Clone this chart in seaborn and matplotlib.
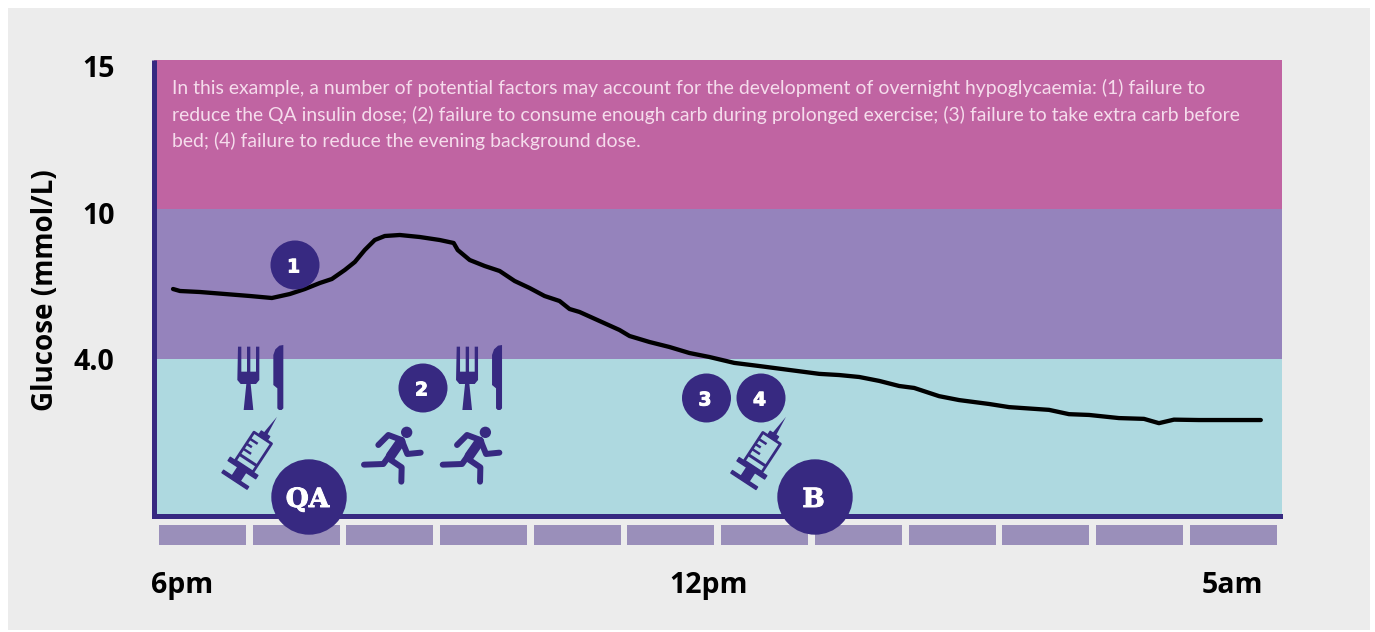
import numpy as np
import pandas as pd
import matplotlib
matplotlib.use("Agg")
import matplotlib.pyplot as plt
import seaborn as sns
import matplotlib.patheffects as pe
from matplotlib.patches import Rectangle, Polygon, Circle
from matplotlib.lines import Line2D
from matplotlib.transforms import ScaledTranslation

# ---- data ----
hours = [0.186,0.26,0.473,0.74,1.006,1.241,1.433,1.593,1.753,1.881,2.019,2.126,2.232,2.339,2.446,2.606,
         2.819,3.032,3.181,3.224,3.352,3.512,3.672,3.832,3.991,4.151,4.311,4.418,4.525,4.738,4.951,5.058,
         5.271,5.484,5.697,5.910,6.176,6.443,6.763,7.083,7.296,7.510,7.723,7.936,8.096,8.362,8.576,8.896,
         9.109,9.535,9.748,9.962,10.281,10.548,10.708,10.868,11.134,11.795]
glucose = [6.80,6.72,6.68,6.60,6.52,6.44,6.60,6.80,7.04,7.20,7.56,7.88,8.36,8.76,8.92,8.96,
           8.88,8.76,8.64,8.36,7.96,7.72,7.52,7.12,6.84,6.52,6.32,6.00,5.88,5.52,5.16,4.92,
           4.68,4.48,4.24,4.08,3.90,3.82,3.72,3.62,3.59,3.54,3.44,3.31,3.26,3.05,2.95,2.85,
           2.77,2.70,2.59,2.57,2.49,2.47,2.36,2.45,2.44,2.44]
block_hours = list(range(12))
block_values = [1]*12
y_ticks = [4, 10, 15]
y_tick_labels = ["4.0", "10", "15"]
x_tick_labels = ["6pm", "12pm", "5am"]
note = ("In this example, a number of potential factors may account for the development of overnight hypoglycaemia: (1) failure to\n"
        "reduce the QA insulin dose; (2) failure to consume enough carb during prolonged exercise; (3) failure to take extra carb before\n"
        "bed; (4) failure to reduce the evening background dose.")

# ---- style ----
DARK = "#372981"; PINK = "#C064A2"; PURPLE = "#9583BC"; TEAL = "#AED9E0"
GREY = "#ECECEC"; BLOCK = "#9A8FBA"
W, H = 1375, 632
sns.set_theme(style="white")
plt.rcParams["font.family"] = ["Open Sans", "DejaVu Sans"]

fig = plt.figure(figsize=(W/100, H/100), dpi=100, facecolor="white")
fig.add_artist(Rectangle((8/W, 1-630/H), 1362/W, 622/H, transform=fig.transFigure,
                         facecolor=GREY, edgecolor="none", zorder=-5))

def axes_px(l, t, r, b):
    return fig.add_axes([l/W, 1-b/H, (r-l)/W, (b-t)/H])

# main axes
L, T, R, B = 153.5, 60, 1282, 515.5
ax = axes_px(L, T, R, B)
ax.patch.set_alpha(0)
keys = [0, 4, 10, 15]; vals = [0, 156.5, 306.5, 455.5]
def fwd(v):
    v = np.asarray(v, float)
    return np.interp(v, keys, vals)
def inv(p):
    p = np.asarray(p, float)
    return np.interp(p, vals, keys)
ax.set_yscale("function", functions=(fwd, inv))
ax.set_ylim(0, 15)
x0 = 155.6; dx = 93.7
ax.set_xlim((L-x0)/dx, (R-x0)/dx)
ax.axhspan(10, 15, color=PINK, lw=0, zorder=0)
ax.axhspan(4, 10, color=PURPLE, lw=0, zorder=0)
ax.axhspan(0, 4, color=TEAL, lw=0, zorder=0)
df = pd.DataFrame({"hour": hours, "glucose": glucose})
sns.lineplot(data=df, x="hour", y="glucose", color="black", lw=3.1, ax=ax, zorder=3,
             estimator=None, sort=False, solid_capstyle="round")
ax.set_xlabel("")
ax.set_xticks([])
ax.set_yticks(y_ticks)
ax.set_yticklabels(y_tick_labels, fontweight="bold", fontsize=20.5, color="black")
ax.minorticks_off()
ax.tick_params(axis="y", length=0, pad=28)
offs = {"4.0": 0, "10": -4, "15": -6}
for lab in ax.get_yticklabels():
    lab.set_transform(lab.get_transform() + ScaledTranslation(0, offs[lab.get_text()]/100, fig.dpi_scale_trans))
ax.set_ylabel("Glucose (mmol/L)", fontweight="bold", fontsize=20, color="black")
ax.yaxis.set_label_coords((60-L)/(R-L), (B-290)/(B-T))
for s in ["top", "right"]:
    ax.spines[s].set_visible(False)
for s in ["left", "bottom"]:
    ax.spines[s].set_color(DARK); ax.spines[s].set_linewidth(3.6)
ax.spines["left"].set_capstyle("butt")
ax.spines["bottom"].set_capstyle("projecting")
ax.spines["bottom"].set_bounds((L-x0)/dx, (R-2.5-x0)/dx)

# block strip
ab = axes_px(x0, 525, x0+12*dx, 545)
ab.patch.set_alpha(0)
sns.barplot(x=block_hours, y=block_values, color=BLOCK, saturation=1, width=87/dx, ax=ab, linewidth=0, edgecolor="none")
ab.set_xlim(-0.5, 11.5); ab.set_ylim(0, 1)
ab.set_yticks([]); ab.set_ylabel("")
ab.set_xticks([(p-x0)/dx-0.5 for p in (182, 709, 1232)])
ab.set_xticklabels(x_tick_labels, fontweight="bold", fontsize=20.5, color="black")
ab.tick_params(axis="x", length=0, pad=19)
sns.despine(ax=ab, left=True, bottom=True)

# overlay in pixel coords for annotations and icons
ov = fig.add_axes([0, 0, 1, 1], zorder=10)
ov.set_xlim(0, W); ov.set_ylim(H, 0); ov.axis("off"); ov.patch.set_alpha(0)
ov.text(172, 114.5, note, color="#F5DCEC", fontsize=13.92, family="Lato", fontweight="normal",
        va="center", ha="left", linespacing=1.54)

def cutlery(ox, oy):
    fork = [(264,50),(274,50),(274,125),(291,125),(291,50),(301,50),(301,125),(318,125),(318,50),(328,50),
            (328,150),(318,162),(302,162),(310,240),(281,240),(289,162),(272,162),(262,150)]
    knife = [(400,45),(388,47),(376,58),(370,75),(370,165),(382,175),(382,235),(387,240),(395,240),(400,235)]
    for poly in (fork, knife):
        ov.add_patch(Polygon([(x/3+ox, y/3+oy) for x, y in poly], closed=True, fc=DARK, ec="none"))

def syringe(cx, cy, tx, ty):
    c = np.array([cx, cy], float); d = np.array([tx-cx, ty-cy], float)
    L_ = np.hypot(*d); d /= L_; n = np.array([-d[1], d[0]])
    P = lambda u, v: tuple(c + d*u + n*v)
    def rect(u0, u1, v0, v1, **kw):
        ov.add_patch(Polygon([P(u0,v0),P(u1,v0),P(u1,v1),P(u0,v1)], closed=True,
                             **({"fc": DARK, "ec": "none"} | kw)))
    rect(-1.5, 1.5, -15, 15, ec=DARK, lw=1, joinstyle="round")
    rect(0, 13, -5.5, 5.5)
    rect(12, 16, -16.5, 16.5, ec=DARK, lw=1, joinstyle="round")
    rect(16, 50, -10.5, 10.5, fc="none", ec=DARK, lw=2, joinstyle="round")
    rect(22, 25, -10, 10)
    for u, w in ((29, 9), (35, 6), (41, 9)):
        rect(u, u+2.5, -10, -10+w)
    rect(50, 55, -5, 5, ec=DARK, lw=1, joinstyle="round")
    ov.add_patch(Polygon([P(54,-2.2),P(L_,0.3),P(54,2.2)], closed=True, fc=DARK, ec="none"))

def runner(ox, oy):
    T_ = lambda pts: ([x/3+ox for x, y in pts], [y/3+oy for x, y in pts])
    limbs = [([(685,345),(715,315),(755,330)], 4.3), ([(755,330),(772,372),(812,368)], 4.3),
             ([(730,360),(700,402),(642,404)], 4.3), ([(715,385),(755,412),(754,455)], 4.3),
             ([(752,335),(722,378)], 7.0)]
    for pts, lw in limbs:
        xs, ys = T_(pts)
        ov.add_line(Line2D(xs, ys, color=DARK, lw=lw, solid_capstyle="round", solid_joinstyle="round"))
    ov.add_patch(Circle((770/3+ox, 307/3+oy), 17/3, fc=DARK, ec="none"))

cutlery(150, 330); cutlery(150+218.7, 330)
syringe(235.3, 479.7, 276.7, 416.7); syringe(744.2, 480, 785.7, 416.7)
runner(150, 330); runner(150+78.7, 330)

for label, cx, cy, r, fs, fam in [("1", 295, 265, 24.5, 13.5, "DejaVu Sans"), ("2", 423, 388, 24.5, 13.5, "DejaVu Sans"),
                                  ("3", 706.5, 398, 24.5, 13.5, "DejaVu Sans"), ("4", 761, 398, 24.5, 13.5, "DejaVu Sans"),
                                  ("QA", 309, 497, 37.7, 19, "DejaVu Serif"), ("B", 815, 497, 37.7, 19, "DejaVu Serif")]:
    ov.add_patch(Circle((cx, cy), r, fc=DARK, ec="none"))
    ov.text(cx-1.5, cy, label, color="white", ha="center", va="center_baseline", fontsize=fs,
            fontweight="bold", family=fam,
            path_effects=[pe.withStroke(linewidth=0.7, foreground="white")])

fig.savefig("out.png", dpi=100, facecolor="white")
